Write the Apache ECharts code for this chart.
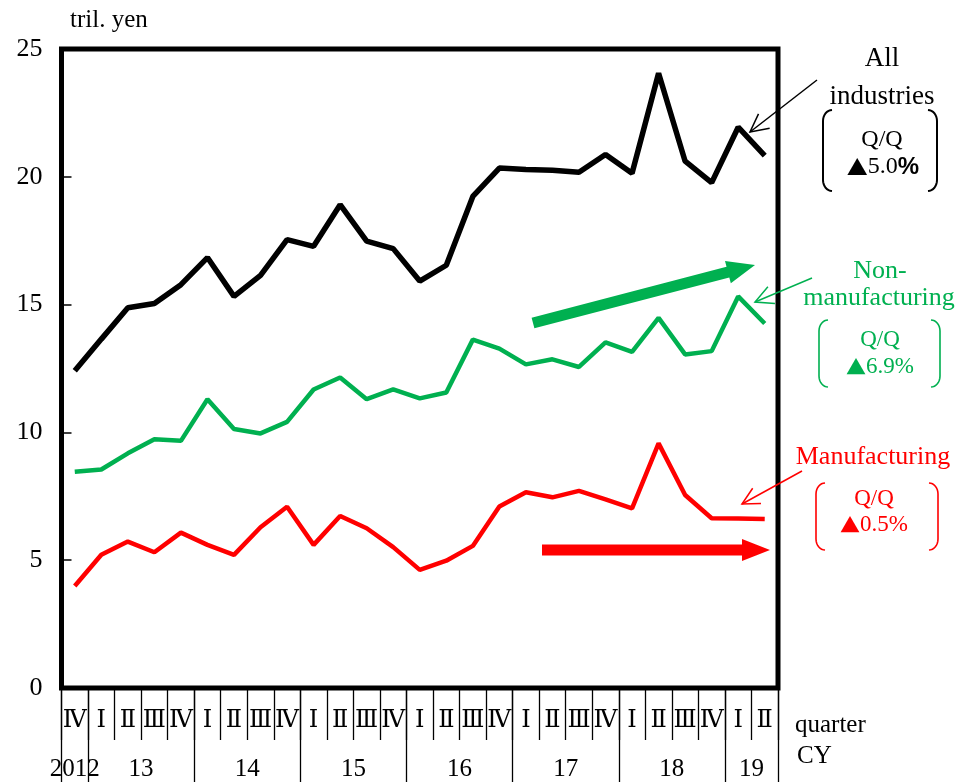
<!DOCTYPE html>
<html>
<head>
<meta charset="utf-8">
<script src="https://cdn.jsdelivr.net/npm/echarts@6/dist/echarts.min.js"></script>
<style>
html,body{margin:0;padding:0;background:#fff;}
#chart{width:958px;height:782px;}
</style>
</head>
<body>
<div id="chart"></div>
<script>
// ---- data ----
var quarters = ['Ⅳ','Ⅰ','Ⅱ','Ⅲ','Ⅳ','Ⅰ','Ⅱ','Ⅲ','Ⅳ','Ⅰ','Ⅱ','Ⅲ','Ⅳ','Ⅰ','Ⅱ','Ⅲ','Ⅳ','Ⅰ','Ⅱ','Ⅲ','Ⅳ','Ⅰ','Ⅱ','Ⅲ','Ⅳ','Ⅰ','Ⅱ'];
var yearLabels = ['2012','13','14','15','16','17','18','19'];
var yearCenters = [0.5, 3, 7, 11, 15, 19, 23, 26];
var yearBounds = [0, 1, 5, 9, 13, 17, 21, 25, 27];
var allIndustries = [12.41, 13.65, 14.88, 15.04, 15.78, 16.84, 15.32, 16.14, 17.54, 17.28, 18.91, 17.48, 17.19, 15.92, 16.54, 19.23, 20.34, 20.29, 20.26, 20.18, 20.87, 20.14, 24.05, 20.61, 19.77, 21.94, 20.83];
var nonManufacturing = [8.46, 8.55, 9.18, 9.73, 9.67, 11.30, 10.13, 9.96, 10.41, 11.68, 12.15, 11.30, 11.68, 11.33, 11.56, 13.63, 13.28, 12.66, 12.86, 12.56, 13.52, 13.15, 14.48, 13.05, 13.18, 15.32, 14.26];
var manufacturing = [3.99, 5.21, 5.73, 5.31, 6.08, 5.60, 5.21, 6.29, 7.09, 5.60, 6.73, 6.25, 5.51, 4.62, 4.98, 5.56, 7.10, 7.66, 7.46, 7.71, 7.38, 7.03, 9.57, 7.55, 6.64, 6.63, 6.61];

var FONT = '"Liberation Serif", "Times New Roman", serif';
var ROMAN_FONT = '"DejaVu Serif", "Liberation Serif", serif';
var TRI_FONT = '"Noto Sans CJK JP", "DejaVu Sans", sans-serif';
var BLACK = '#000000', GREEN = '#00B050', RED = '#FF0000';

// ---- annotation helpers ----
function thickArrow(x1, y1, x2, y2, sw, hl, hw, color) {
  var dx = x2 - x1, dy = y2 - y1, L = Math.sqrt(dx * dx + dy * dy);
  var ux = dx / L, uy = dy / L, px = -uy, py = ux;
  var bx = x2 - ux * hl, by = y2 - uy * hl;
  return {
    type: 'polygon', z: 50,
    shape: { points: [
      [x1 + px * sw / 2, y1 + py * sw / 2],
      [bx + px * sw / 2, by + py * sw / 2],
      [bx + px * hw / 2, by + py * hw / 2],
      [x2, y2],
      [bx - px * hw / 2, by - py * hw / 2],
      [bx - px * sw / 2, by - py * sw / 2],
      [x1 - px * sw / 2, y1 - py * sw / 2]
    ] },
    style: { fill: color }
  };
}
function thinArrow(x1, y1, x2, y2, hl, color) {
  var a = Math.atan2(y1 - y2, x1 - x2), d = 27 * Math.PI / 180;
  return {
    type: 'group', z: 50,
    children: [
      { type: 'line', shape: { x1: x1, y1: y1, x2: x2, y2: y2 }, style: { stroke: color, lineWidth: 1.5 } },
      { type: 'polyline', shape: { points: [
        [x2 + hl * Math.cos(a + d), y2 + hl * Math.sin(a + d)],
        [x2, y2],
        [x2 + hl * Math.cos(a - d), y2 + hl * Math.sin(a - d)]
      ] }, style: { stroke: color, lineWidth: 1.5, fill: null } }
    ]
  };
}
function bracket(x, y0, y1, dir, color, lw) {
  var w = 9, r = 11, pts = [], i, t;
  for (i = 0; i <= 8; i++) {
    t = (i / 8) * Math.PI / 2;
    pts.push([x + dir * w * (1 - Math.sin(t)), y0 + r * (1 - Math.cos(t))]);
  }
  for (i = 0; i <= 8; i++) {
    t = (i / 8) * Math.PI / 2;
    pts.push([x + dir * w * (1 - Math.cos(t)), y1 - r * (1 - Math.sin(t))]);
  }
  return { type: 'polyline', z: 50, shape: { points: pts }, style: { stroke: color, lineWidth: lw, fill: null } };
}
function txt(x, y, text, color, size, align) {
  return { type: 'text', z: 50, x: x, y: y,
    style: { text: text, fill: color, font: size + 'px ' + FONT, textAlign: align || 'center', textVerticalAlign: 'middle' } };
}
function qq(x, y, value, color, size, pctSans) {
  var rich = {
    t: { fontSize: size - 3, fontFamily: TRI_FONT, fill: color, verticalAlign: 'middle' },
    n: { fontSize: size, fontFamily: FONT, fill: color, verticalAlign: 'middle' },
    p: pctSans
      ? { fontSize: size, fontFamily: '"Liberation Sans", Arial, sans-serif', fontWeight: 'bold', fill: color, verticalAlign: 'middle' }
      : { fontSize: size, fontFamily: FONT, fill: color, verticalAlign: 'middle' }
  };
  return { type: 'text', z: 50, x: x, y: y,
    style: { text: '{t|▲}{n|' + value + '}{p|%}', fill: color, textAlign: 'center', textVerticalAlign: 'middle', rich: rich } };
}

var graphics = [
  txt(70, 20, 'tril. yen', BLACK, 25, 'left'),
  txt(795, 725, 'quarter', BLACK, 25, 'left'),
  txt(797, 756, 'CY', BLACK, 25, 'left'),
  // All industries
  txt(882, 59, 'All', BLACK, 27),
  txt(882, 97, 'industries', BLACK, 27),
  bracket(823, 110, 191, 1, BLACK, 2),
  bracket(937, 110, 191, -1, BLACK, 2),
  txt(882, 140, 'Q/Q', BLACK, 24),
  qq(883, 167, '5.0', BLACK, 24, true),
  thinArrow(817, 80, 750, 132, 20, BLACK),
  // Non-manufacturing
  txt(880, 271, 'Non-', GREEN, 26),
  txt(879, 298, 'manufacturing', GREEN, 26),
  bracket(819, 320, 387, 1, GREEN, 1.6),
  bracket(940, 320, 387, -1, GREEN, 1.6),
  txt(880, 340, 'Q/Q', GREEN, 23),
  qq(880, 367, '6.9', GREEN, 23, false),
  thinArrow(812, 278, 755, 302, 20, GREEN),
  thickArrow(533, 323, 755, 265, 11, 28, 23, GREEN),
  // Manufacturing
  txt(873, 457, 'Manufacturing', RED, 26),
  bracket(816, 483, 550, 1, RED, 1.6),
  bracket(938, 483, 550, -1, RED, 1.6),
  txt(874, 499, 'Q/Q', RED, 23),
  qq(874, 525, '0.5', RED, 23, false),
  thinArrow(802, 471, 742, 504, 19, RED),
  thickArrow(542, 550, 770, 550, 11, 28, 22, RED)
];

var chart = echarts.init(document.getElementById('chart'), null, { renderer: 'canvas' });
chart.setOption({
  backgroundColor: '#ffffff',
  animation: false,
  grid: { left: 61.5, top: 49, width: 716.5, height: 639, show: true, borderColor: BLACK, borderWidth: 5, backgroundColor: 'transparent', containLabel: false },
  xAxis: [
    {
      type: 'category', data: quarters, position: 'bottom', offset: 0, boundaryGap: true,
      axisLine: { show: false },
      axisTick: { show: true, interval: 0, length: 52, lineStyle: { color: BLACK, width: 1.3 } },
      axisLabel: { interval: 0, margin: 21, color: BLACK, fontSize: 24, fontFamily: ROMAN_FONT },
      splitLine: { show: false }
    },
    {
      type: 'value', min: 0, max: 27, position: 'bottom', offset: 0,
      axisLine: { show: false },
      splitLine: { show: false },
      axisTick: { show: true, customValues: yearBounds, length: 94, lineStyle: { color: BLACK, width: 1.3 } },
      axisLabel: { customValues: yearCenters, margin: 69, color: BLACK, fontSize: 25, fontFamily: FONT,
        formatter: function (v) { var i = yearCenters.indexOf(v); return i >= 0 ? yearLabels[i] : ''; } }
    }
  ],
  yAxis: {
    type: 'value', min: 0, max: 25, interval: 5,
    axisLine: { show: false },
    axisTick: { show: true, inside: true, length: 10, lineStyle: { color: BLACK, width: 1.5 } },
    axisLabel: { margin: 19, color: BLACK, fontSize: 26, fontFamily: FONT },
    splitLine: { show: false }
  },
  series: [
    { name: 'All industries', type: 'line', xAxisIndex: 0, data: allIndustries, symbol: 'none', lineStyle: { color: BLACK, width: 5.5 }, z: 5 },
    { name: 'Non-manufacturing', type: 'line', xAxisIndex: 0, data: nonManufacturing, symbol: 'none', lineStyle: { color: GREEN, width: 4.5 }, z: 4 },
    { name: 'Manufacturing', type: 'line', xAxisIndex: 0, data: manufacturing, symbol: 'none', lineStyle: { color: RED, width: 4.5 }, z: 3 }
  ],
  graphic: graphics
});
</script>
</body>
</html>
